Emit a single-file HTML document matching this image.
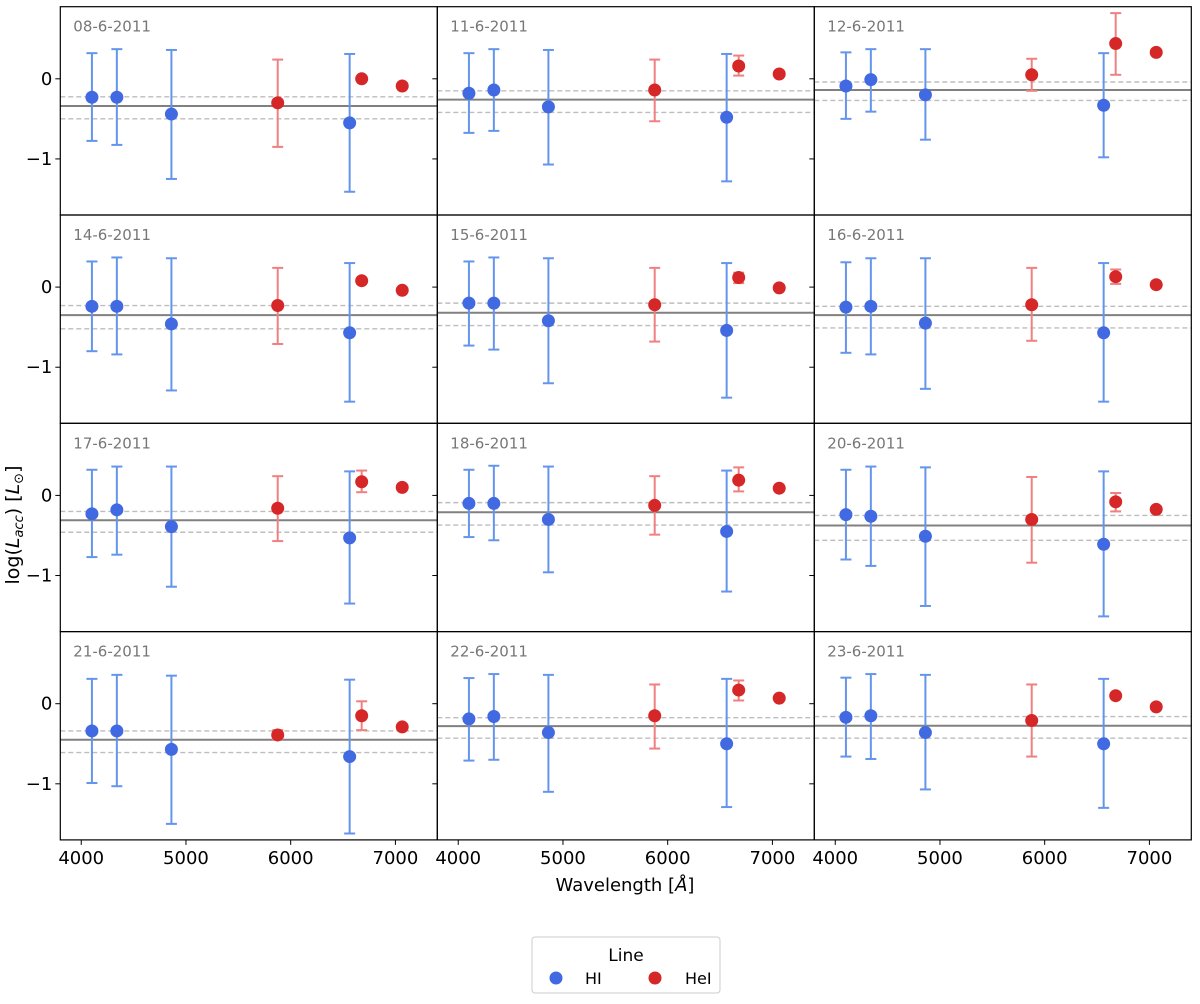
<!DOCTYPE html>
<html><head><meta charset="utf-8">
<style>
body{margin:0;background:#fff;}
svg{display:block;font-family:"DejaVu Sans","Liberation Sans",sans-serif;}
</style></head>
<body>
<svg id="chart" width="1200" height="1004" viewBox="0 0 1200 1004">
<g id="plot"></g>
<text x="625" y="891" font-size="18" text-anchor="middle">Wavelength [<tspan font-style="italic">Å</tspan>]</text>
<text transform="translate(19,525) rotate(-90)" font-size="19" text-anchor="middle">log(<tspan font-style="italic">L</tspan><tspan font-style="italic" font-size="13" dy="4">acc</tspan><tspan dy="-4">) [</tspan><tspan font-style="italic">L</tspan><tspan font-size="13" dy="4">⊙</tspan><tspan dy="-4">]</tspan></text>
<g>
<rect x="532" y="937" width="188" height="56" rx="3" fill="#fff" stroke="#ccc" stroke-width="1"/>
<text x="626" y="961" font-size="17" text-anchor="middle">Line</text>
<g><circle cx="556" cy="978" r="6.5" fill="#4169e1"/><text x="585" y="984" font-size="16">HI</text></g>
<g><circle cx="655" cy="978" r="6.5" fill="#d62728"/><text x="685" y="984" font-size="16">HeI</text></g>
</g>
</svg>
<script>
const dates = ["08-6-2011","11-6-2011","12-6-2011","14-6-2011","15-6-2011","16-6-2011","17-6-2011","18-6-2011","20-6-2011","21-6-2011","22-6-2011","23-6-2011"];
const hiWave = [4102,4340,4861,6563];
const heWave = [5876,6678,7065];
const hiVal = [[-0.23,-0.23,-0.44,-0.55],[-0.18,-0.14,-0.35,-0.48],[-0.09,-0.01,-0.20,-0.33],[-0.24,-0.24,-0.46,-0.57],[-0.20,-0.20,-0.42,-0.54],[-0.25,-0.24,-0.45,-0.57],[-0.23,-0.18,-0.39,-0.53],[-0.10,-0.10,-0.30,-0.45],[-0.24,-0.26,-0.51,-0.61],[-0.34,-0.34,-0.57,-0.66],[-0.19,-0.16,-0.36,-0.50],[-0.17,-0.15,-0.36,-0.50]];
const hiTop = [[0.32,0.37,0.36,0.31],[0.32,0.37,0.36,0.31],[0.33,0.37,0.37,0.32],[0.32,0.37,0.36,0.30],[0.32,0.37,0.36,0.30],[0.31,0.36,0.36,0.30],[0.32,0.36,0.36,0.30],[0.32,0.37,0.36,0.31],[0.32,0.36,0.35,0.30],[0.31,0.36,0.35,0.30],[0.32,0.37,0.36,0.31],[0.325,0.37,0.36,0.31]];
const hiBot = [[-0.775,-0.825,-1.25,-1.41],[-0.675,-0.65,-1.07,-1.28],[-0.50,-0.41,-0.76,-0.98],[-0.80,-0.84,-1.29,-1.43],[-0.73,-0.78,-1.20,-1.38],[-0.82,-0.84,-1.27,-1.43],[-0.77,-0.74,-1.14,-1.35],[-0.52,-0.56,-0.96,-1.20],[-0.80,-0.88,-1.38,-1.51],[-0.99,-1.03,-1.50,-1.62],[-0.71,-0.70,-1.10,-1.29],[-0.66,-0.69,-1.07,-1.30]];
const heVal = [[-0.30,0.00,-0.09],[-0.14,0.16,0.06],[0.05,0.44,0.33],[-0.23,0.08,-0.04],[-0.22,0.12,-0.01],[-0.22,0.13,0.03],[-0.16,0.17,0.10],[-0.125,0.19,0.09],[-0.30,-0.08,-0.175],[-0.39,-0.15,-0.29],[-0.15,0.17,0.07],[-0.21,0.10,-0.04]];
const heTop = [[0.24,null,null],[0.24,0.29,null],[0.25,0.82,null],[0.24,null,null],[0.24,0.18,null],[0.24,0.22,null],[0.24,0.31,null],[0.24,0.35,null],[0.23,0.03,null],[-0.33,0.03,null],[0.24,0.29,null],[0.24,null,null]];
const heBot = [[-0.85,null,null],[-0.53,0.04,null],[-0.15,0.05,null],[-0.71,null,null],[-0.68,0.05,null],[-0.67,0.04,null],[-0.57,0.04,null],[-0.49,0.05,null],[-0.84,-0.20,null],[-0.445,-0.33,null],[-0.56,0.04,null],[-0.66,null,null]];
const meanVal = [-0.34,-0.26,-0.14,-0.35,-0.32,-0.35,-0.31,-0.21,-0.375,-0.45,-0.28,-0.275];
const lowVal = [-0.50,-0.42,-0.27,-0.52,-0.48,-0.51,-0.46,-0.37,-0.56,-0.61,-0.43,-0.43];
const highVal = [-0.225,-0.15,-0.04,-0.23,-0.20,-0.24,-0.20,-0.09,-0.25,-0.34,-0.175,-0.16];
const xTicks = [4000,5000,6000,7000];
const yTicks = [0,-1];
const yTickLabels = ["0","\u22121"];

const NS="http://www.w3.org/2000/svg";
const plot=document.getElementById('plot');
const L0=60.3, PW=377, T0=6.7, PH=208.3;
const XMIN=3800, XMAX=7400, YMIN=-1.7, YMAX=0.9;
function mk(tag,attrs,parent){const e=document.createElementNS(NS,tag);for(const k in attrs)e.setAttribute(k,attrs[k]);(parent||plot).appendChild(e);return e;}
function xs(col,v){return L0+col*PW+(v-XMIN)/(XMAX-XMIN)*PW;}
function ys(row,v){return T0+row*PH+(YMAX-v)/(YMAX-YMIN)*PH;}

function errbar(g,x,yt,yb,color){
  const e=mk('g',{},g);
  
  
  mk('line',{x1:x,x2:x,y1:yt,y2:yb,stroke:color,'stroke-width':2},e);
  mk('line',{x1:x-5.5,x2:x+5.5,y1:yt,y2:yt,stroke:color,'stroke-width':2},e);
  mk('line',{x1:x-5.5,x2:x+5.5,y1:yb,y2:yb,stroke:color,'stroke-width':2},e);
}

dates.forEach((d,i)=>{
  const row=Math.floor(i/3), col=i%3;
  const g=mk('g',{});
  
  
  const x0=L0+col*PW, y0=T0+row*PH;
  const ml=mk('line',{x1:x0,x2:x0+PW,y1:ys(row,meanVal[i]),y2:ys(row,meanVal[i]),stroke:'#808080','stroke-width':2},g);
  
  
  [lowVal[i],highVal[i]].forEach(v=>{
    const dl=mk('line',{x1:x0,x2:x0+PW,y1:ys(row,v),y2:ys(row,v),stroke:'#bdbdbd','stroke-width':1.4,'stroke-dasharray':'5,3'},g);
    
    
  });
  heWave.forEach((w,k)=>{ if(heTop[i][k]!==null) errbar(g,xs(col,w),ys(row,heTop[i][k]),ys(row,heBot[i][k]),'#f08080'); });
  hiWave.forEach((w,k)=>{ errbar(g,xs(col,w),ys(row,hiTop[i][k]),ys(row,hiBot[i][k]),'#6495ed'); });
  hiWave.forEach((w,k)=>{
    const c=mk('circle',{cx:xs(col,w),cy:ys(row,hiVal[i][k]),r:6.5,fill:'#4169e1'},g);
    
    
  });
  heWave.forEach((w,k)=>{
    const c=mk('circle',{cx:xs(col,w),cy:ys(row,heVal[i][k]),r:6.5,fill:'#d62728'},g);
    
    
  });
  const fr=mk('rect',{x:x0,y:y0,width:PW,height:PH,fill:'none',stroke:'#000','stroke-width':1.2},g);
  
  
  const t=mk('text',{x:x0+13,y:y0+25,'font-size':15,fill:'#777'},g);
  t.textContent=d;
  
  
  yTicks.forEach((v,k)=>{
    mk('line',{x1:x0-5,x2:x0,y1:ys(row,v),y2:ys(row,v),stroke:'#000','stroke-width':1},g);
    if(col===0){
      const tl=mk('text',{x:x0-8,y:ys(row,v)+6,'font-size':18,'text-anchor':'end'},g);
      tl.textContent=yTickLabels[k];
      
      
    }
  });
  if(row===3){
    xTicks.forEach(v=>{
      mk('line',{x1:xs(col,v),x2:xs(col,v),y1:y0+PH,y2:y0+PH+5,stroke:'#000','stroke-width':1},g);
      const xl=mk('text',{x:xs(col,v),y:y0+PH+24,'font-size':18,'text-anchor':'middle'},g);
      xl.textContent=v;
      
      
    });
  }
});
</script>
</body></html>
